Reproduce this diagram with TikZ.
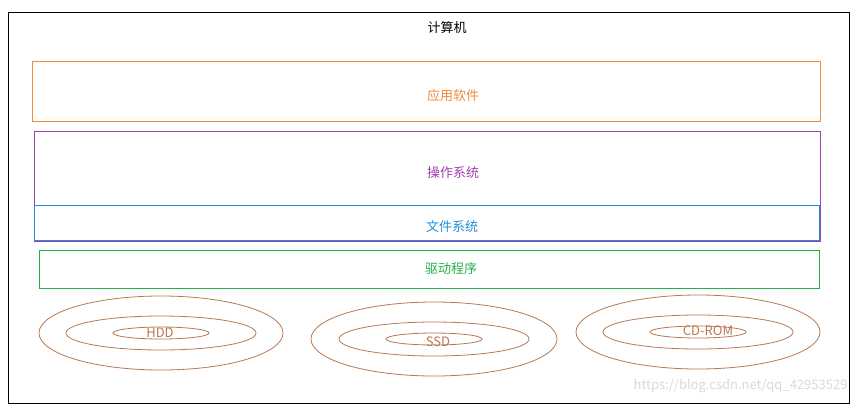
\documentclass[tikz,border=0pt]{standalone}
\usepackage{fontspec}
\setmainfont{Noto Sans CJK SC}
\begin{document}
\begin{tikzpicture}[x=1pt,y=-1pt,
  lbl/.style={font=\fontsize{13}{15}\selectfont},
  ring/.style={draw=ringc, line width=0.8pt}]
\definecolor{appc}{HTML}{F08A3C}
\definecolor{osc}{HTML}{A23EB0}
\definecolor{fsc}{HTML}{1E90D8}
\definecolor{drc}{HTML}{22B04A}
\definecolor{ringc}{HTML}{B87850}
\useasboundingbox (0,0) rectangle (858,407);
\draw[black, line width=0.8pt] (8,12) rectangle (849,403);
\node[lbl] (title) at (447,28) {计算机};
\draw[appc, line width=0.8pt] (32,61) rectangle (820,121);
\node[lbl, text=appc] (app) at (453,96) {应用软件};
\draw[osc, line width=0.8pt] (34,131) rectangle (820,241);
\node[lbl, text=osc] (os) at (453,173) {操作系统};
\draw[fsc, line width=0.8pt] (34,205) rectangle (819,240);
\draw[osc, line width=0.8pt] (34,241) -- (820,241);
\node[lbl, text=fsc] (fs) at (452,227) {文件系统};
\draw[drc, line width=0.8pt] (39,250) rectangle (819,288);
\node[lbl, text=drc] (drv) at (451,269) {驱动程序};
\node[lbl, text=ringc] (hdd) at (160,333) {HDD};
\node[lbl, text=ringc] (ssd) at (438,342) {SSD};
\node[lbl, text=ringc] (cd) at (708,331) {CD-ROM};
\foreach \cx/\cy/\r in {161/333/122, 434/339/123, 698/332/122} {
  \draw[ring] (\cx,\cy) ellipse [x radius=\r, y radius=37];
  \draw[ring] (\cx,\cy) ellipse [x radius=95, y radius=17];
  \draw[ring] (\cx,\cy) ellipse [x radius=48, y radius=6];
}
\node[lbl, text=black!15, anchor=east] (wm) at (851,386) {https://blog.csdn.net/qq\_42953529};
\end{tikzpicture}
\end{document}
